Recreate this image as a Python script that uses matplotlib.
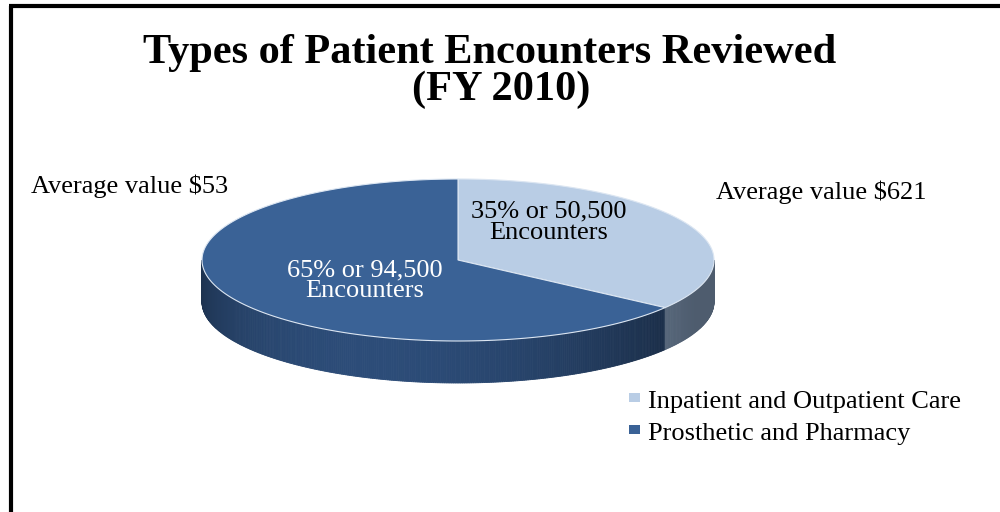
import numpy as np
import matplotlib

matplotlib.use("Agg")

import matplotlib.pyplot as plt
from matplotlib.colors import to_rgb
from matplotlib.patches import Polygon, Rectangle

TITLE_LINES = ["Types of Patient Encounters Reviewed", "(FY 2010)"]
CATEGORIES = ["Inpatient and Outpatient Care", "Prosthetic and Pharmacy"]
SHARES = [35, 65]
ENCOUNTERS = ["50,500", "94,500"]
AVG_VALUES = ["$621", "$53"]

TOP_COLORS = ["#B9CDE5", "#3A6296"]
SIDE_COLORS = ["#8DA7C8", "#2C4C78"]
LABEL_COLORS = ["black", "white"]

# pie layout in pixel space
CX, CY = 458, 260
RX, RY = 256, 81
DEPTH = 42

plt.rcParams["font.family"] = ["Liberation Serif", "DejaVu Serif"]
FS = 19


def ellipse_point(theta_deg, drop=0.0):
    t = np.radians(theta_deg)
    return CX + RX * np.cos(t), CY - RY * np.sin(t) + drop


def shade(color, theta_deg):
    # darker toward the sides of the wall, lighter in the front-left
    t = np.radians(theta_deg)
    f = 0.55 + 0.45 * max(0.0, -np.sin(t + 0.35)) ** 1.5
    r, g, b = to_rgb(color)
    return (r * f, g * f, b * f)


fig = plt.figure(figsize=(10, 5.12), dpi=100)
ax = fig.add_axes([0, 0, 1, 1])
ax.set_xlim(0, 1000)
ax.set_ylim(512, 0)
ax.axis("off")

# slice angle ranges, clockwise from 12 o'clock
total = sum(SHARES)
starts, ends = [], []
angle = 90.0
for share in SHARES:
    starts.append(angle)
    angle -= 360.0 * share / total
    ends.append(angle)


def slice_at(theta):
    for i in range(len(SHARES)):
        lo, hi = ends[i], starts[i]
        for k in (-360, 0, 360):
            if lo <= theta + k <= hi:
                return i
    return len(SHARES) - 1


# front wall, drawn as thin strips
step = 0.5
for theta in np.arange(-180.0, 0.0, step):
    i = slice_at(theta + step / 2)
    x0, y0 = ellipse_point(theta)
    x1, y1 = ellipse_point(theta + step)
    col = shade(SIDE_COLORS[i], theta + step / 2)
    ax.add_patch(Polygon([(x0, y0), (x1, y1), (x1, y1 + DEPTH), (x0, y0 + DEPTH)],
                         closed=True, facecolor=col, edgecolor=col, linewidth=0.6))

# top faces
for i in range(len(SHARES)):
    thetas = np.linspace(starts[i], ends[i], 200)
    pts = [(CX, CY)] + [ellipse_point(t) for t in thetas]
    ax.add_patch(Polygon(pts, closed=True, facecolor=TOP_COLORS[i],
                         edgecolor="#DCE6F2", linewidth=0.8))

# in-slice labels (two lines, baselines placed separately)
label_pos = [(549, 217, 239), (365, 276, 297)]
for i, (share, enc) in enumerate(zip(SHARES, ENCOUNTERS)):
    lx, b1, b2 = label_pos[i]
    ax.text(lx, b1, f"{share}% or {enc}", ha="center", va="baseline",
            fontsize=FS, color=LABEL_COLORS[i])
    ax.text(lx, b2, "Encounters", ha="center", va="baseline",
            fontsize=FS, color=LABEL_COLORS[i])

ax.text(31, 193, f"Average value {AVG_VALUES[1]}", ha="left", va="baseline", fontsize=FS)
ax.text(716, 199, f"Average value {AVG_VALUES[0]}", ha="left", va="baseline", fontsize=FS)

ax.text(490, 63, TITLE_LINES[0], ha="center", va="baseline", fontsize=30.5,
        fontweight="bold")
ax.text(501, 100, TITLE_LINES[1], ha="center", va="baseline", fontsize=30.5,
        fontweight="bold")

# legend
for i, name in enumerate(CATEGORIES):
    base = 408 + 32 * i
    ax.add_patch(Rectangle((629, base - 15), 11, 9, facecolor=TOP_COLORS[i], edgecolor="none"))
    ax.text(648, base, name, ha="left", va="baseline", fontsize=FS)

# frame (left and top only)
ax.plot([10.5, 10.5], [5.5, 512], color="black", linewidth=3, solid_capstyle="butt")
ax.plot([9, 1000], [5.5, 5.5], color="black", linewidth=3, solid_capstyle="butt")

fig.savefig("out.png", dpi=100, facecolor="white")
